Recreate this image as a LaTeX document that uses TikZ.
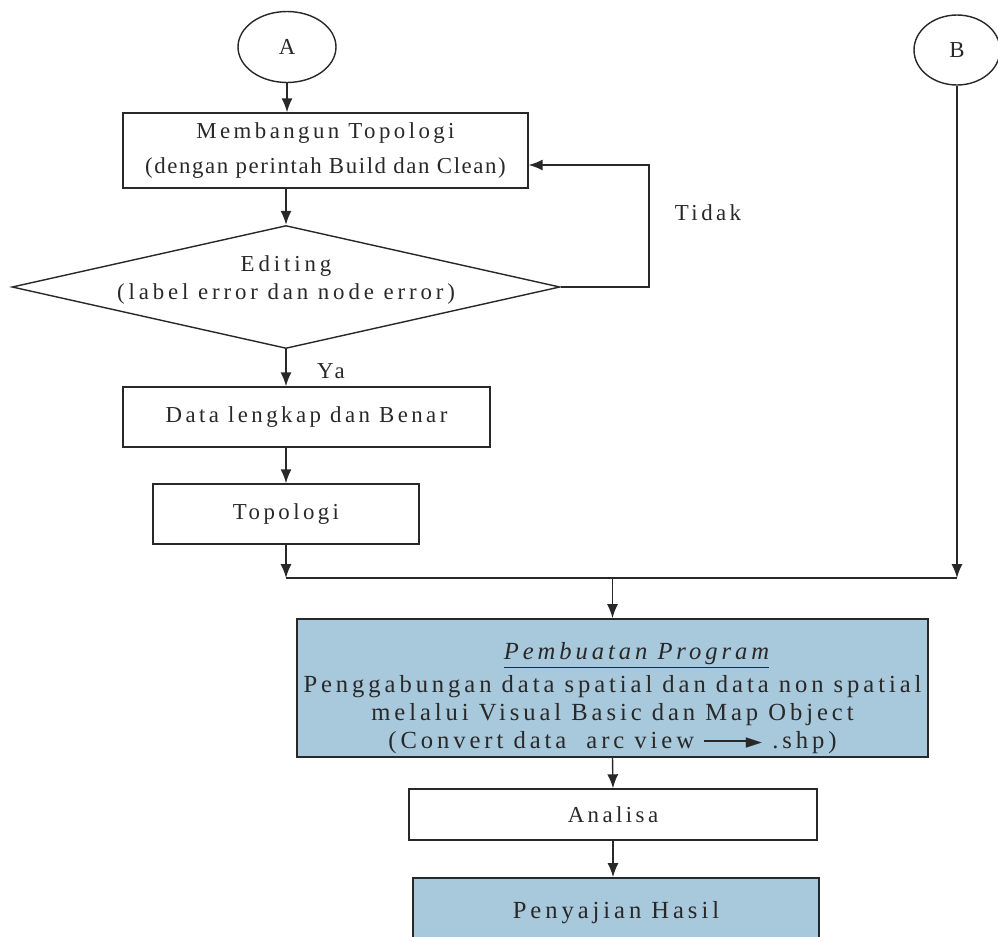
\documentclass[tikz,border=0pt]{standalone}
\usepackage{fontspec}
\setmainfont{Liberation Serif}[LetterSpace=15]
\newfontfamily\arrowfont{DejaVu Sans}
\usepackage{xcolor}
\usetikzlibrary{arrows.meta,shapes.geometric,positioning}

\definecolor{progblue}{RGB}{168,200,220}
\definecolor{inkgray}{RGB}{40,40,40}
\newcommand{\convarrow}{\rule[0.3em]{2.0em}{0.8pt}\kern-0.3em{\arrowfont\fontsize{12}{12}\selectfont ►}}

\begin{document}
\begin{tikzpicture}[
x=0.02cm, y=-0.02cm,
font=\fontsize{13}{20}\selectfont,
line/.style={draw=inkgray, line width=0.8pt},
arr/.style={line, -{Latex[length=2.8mm,width=2.2mm]}},
roundnode/.style={ellipse, draw=inkgray, text=inkgray, line width=0.8pt, inner sep=0pt},
boxnode/.style={rectangle, draw=inkgray, text=inkgray, line width=0.8pt, align=center, inner sep=0pt},
decision/.style={diamond, draw=inkgray, text=inkgray, line width=0.8pt, aspect=4.46, inner sep=0pt, minimum width=10.96cm, minimum height=2.46cm},
bluenode/.style={boxnode, fill=progblue, line width=1pt, font=\fontsize{14}{16}\selectfont\addfontfeature{LetterSpace=16}},
labelnode/.style={text=inkgray, inner sep=0pt},
]
\useasboundingbox (0,0) rectangle (998,937);

%Nodes
\node[roundnode, minimum width=1.96cm, minimum height=1.42cm] (A) at (287,47) {A};
\node[roundnode, minimum width=1.72cm, minimum height=1.40cm] (B) at (957,50) {B};
\node[boxnode, minimum width=8.1cm, minimum height=1.5cm] (build) at (325.5,150.5)
  {Membangun Topologi\\{\addfontfeature{LetterSpace=7}(dengan perintah Build dan Clean)}};
\node[decision] (edit) at (286,287)
  {\raisebox{0.04cm}[0pt][0pt]{\makebox[0pt]{\fontsize{13}{16}\selectfont\addfontfeature{LetterSpace=17}\begin{tabular}{@{}c@{}}Editing\\(label error dan node error)\end{tabular}}}};
\node[boxnode, minimum width=7.34cm, minimum height=1.2cm] (data) at (306.5,417) {Data lengkap dan Benar};
\node[boxnode, minimum width=5.32cm, minimum height=1.2cm] (topo) at (286,514) {Topologi};
\node[bluenode, minimum width=12.62cm, minimum height=2.76cm] (prog) at (612.5,688)
  {\rule{0pt}{0.75cm}\hspace*{0.96cm}\underline{\itshape Pembuatan Program}\\[3pt]
   Penggabungan data spatial dan data non spatial\\
   melalui Visual Basic dan Map Object\\
   (Convert data\ \ arc view \convarrow\ .shp)};
\node[boxnode, minimum width=8.16cm, minimum height=1.02cm] (analisa) at (613,814.5) {Analisa};
\node[bluenode, minimum width=8.12cm, minimum height=1.4cm] (hasil) at (616,913) {Penyajian Hasil};

%Labels
\node[labelnode] (tidak) at (708,213) {Tidak};
\node[labelnode] (ya) at (331,371) {Ya};

%Corners
\coordinate (loop) at (649,165);
\coordinate (join) at (287,578);

%Lines
\draw[arr] (A.south) -- (A.south |- build.north);
\draw[arr] (edit.north |- build.south) -- (edit.north);
\draw[arr] (edit.east) -| (loop) -- (loop -| build.east);
\draw[arr] (edit.south) -- (edit.south |- data.north);
\draw[arr] (edit.south |- data.south) -- (edit.south |- topo.north);
\draw[arr] (topo.south) -- (topo.south |- join);
\draw[arr] (B.south) -- (B.south |- join);
\draw[line] (topo.south |- join) -- (B.south |- join);
\draw[arr] (prog.north |- join) -- (prog.north);
\draw[arr] (prog.south) -- (analisa.north);
\draw[arr] (analisa.south) -- (analisa.south |- hasil.north);
\end{tikzpicture}
\end{document}
